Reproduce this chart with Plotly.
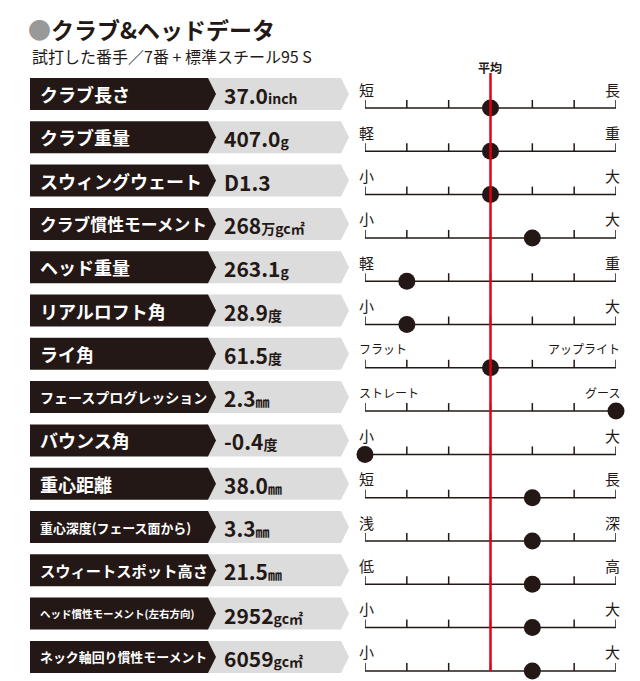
import plotly.graph_objects as go

# --- datos ---
etiquetas = ['クラブ長さ', 'クラブ重量', 'スウィングウェート', 'クラブ慣性モーメント', 'ヘッド重量',
             'リアルロフト角', 'ライ角', 'フェースプログレッション', 'バウンス角', '重心距離',
             '重心深度(フェース面から)', 'スウィートスポット高さ', 'ヘッド慣性モーメント(左右方向)',
             'ネック軸回り慣性モーメント']
valores = ['37.0', '407.0', 'D1.3', '268', '263.1', '28.9', '61.5', '2.3', '-0.4', '38.0',
           '3.3', '21.5', '2952', '6059']
unidades = ['inch', 'g', '', '万gc㎡', 'g', '度', '度', '㎜', '度', '㎜', '㎜', '㎜', 'gc㎡', 'gc㎡']
izq = ['短', '軽', '小', '小', '軽', '小', 'フラット', 'ストレート', '小', '短', '浅', '低', '小', '小']
der = ['長', '重', '大', '大', '重', '大', 'アップライト', 'グース', '大', '長', '深', '高', '大', '大']
posicion = [3, 3, 3, 4, 1, 1, 3, 6, 0, 4, 4, 4, 4, 4]
marcas = [0, 1, 2, 3, 4, 5, 6]

FONT = 'Noto Sans CJK JP'
W, H = 640, 681
X0, X1 = 357, 608

fig = go.Figure()
shapes = []
ann = []

for i, lab in enumerate(etiquetas):
    c = 86 + 43.3 * i
    top, bot = c - 16, c + 16
    ly = c + 14
    shapes.append(dict(type='path', xref='x', yref='y',
                       path=f'M195,{top} L333,{top} L341,{c} L333,{bot} L195,{bot} Z',
                       fillcolor='#dcdcdc', line_width=0, layer='below'))
    shapes.append(dict(type='path', xref='x', yref='y',
                       path=f'M22,{top} L200,{top} L208,{c} L200,{bot} L22,{bot} Z',
                       fillcolor='#231815', line_width=0, layer='below'))
    fs = min(18, 168 / len(lab))
    ann.append(dict(x=30, y=c, xref='x', yref='y', text=f'<b>{lab}</b>', showarrow=False,
                    xanchor='left', font=dict(color='white', size=fs, family=FONT)))
    txt = f'<b>{valores[i]}</b><span style="font-size:14px"><b>{unidades[i]}</b></span>'
    ann.append(dict(x=214, y=c + 1, xref='x', yref='y', text=txt, showarrow=False,
                    xanchor='left', font=dict(color='#231815', size=21, family=FONT)))
    lf = 15 if len(izq[i]) == 1 else 12
    ann.append(dict(x=X0 - 8, y=c - 5, xref='x', yref='y', text=izq[i], showarrow=False,
                    xanchor='left', font=dict(color='#231815', size=lf, family=FONT)))
    ann.append(dict(x=X1 + 6, y=c - 5, xref='x', yref='y', text=der[i], showarrow=False,
                    xanchor='right', font=dict(color='#231815', size=lf, family=FONT)))
    fig.add_trace(go.Scatter(x=[marcas[0], marcas[-1]], y=[ly, ly], xaxis='x2', yaxis='y',
                             mode='lines', line=dict(color='#231815', width=1.5),
                             hoverinfo='skip'))
    for m in marcas:
        shapes.append(dict(type='line', xref='x2', yref='y', x0=m, x1=m, y0=ly, y1=ly - 8,
                           line=dict(color='#231815', width=1.5)))

# línea promedio
shapes.append(dict(type='line', xref='x2', yref='y', x0=3, x1=3, y0=65, y1=663,
                   line=dict(color='#e60012', width=2.5)))
fig.add_trace(go.Scatter(x=posicion, y=[86 + 43.3 * i + 14 for i in range(len(posicion))],
                         xaxis='x2', yaxis='y', mode='markers', cliponaxis=False,
                         marker=dict(color='#231815', size=17), hoverinfo='skip'))

ann.append(dict(x=482, y=59, xref='x', yref='y', text='<b>平均</b>', showarrow=False,
                font=dict(color='#231815', size=12, family=FONT)))
ann.append(dict(x=18, y=21, xref='x', yref='y', xanchor='left',
                text='<span style="color:#999">●</span><b>クラブ&ヘッドデータ</b>',
                showarrow=False, font=dict(color='#231815', size=23, family=FONT)))
ann.append(dict(x=22, y=48, xref='x', yref='y', xanchor='left',
                text='試打した番手／7番 + 標準スチール95 S',
                showarrow=False, font=dict(color='#231815', size=16, family=FONT)))

fig.update_layout(
    width=W, height=H, margin=dict(l=0, r=0, t=0, b=0),
    plot_bgcolor='white', paper_bgcolor='white', showlegend=False,
    xaxis=dict(range=[0, W], visible=False, domain=[0, 1]),
    xaxis2=dict(range=[0, 6], visible=False, domain=[X0 / W, X1 / W], anchor='y'),
    yaxis=dict(range=[H, 0], visible=False),
    shapes=shapes, annotations=ann,
)

fig.write_html('out.html')
